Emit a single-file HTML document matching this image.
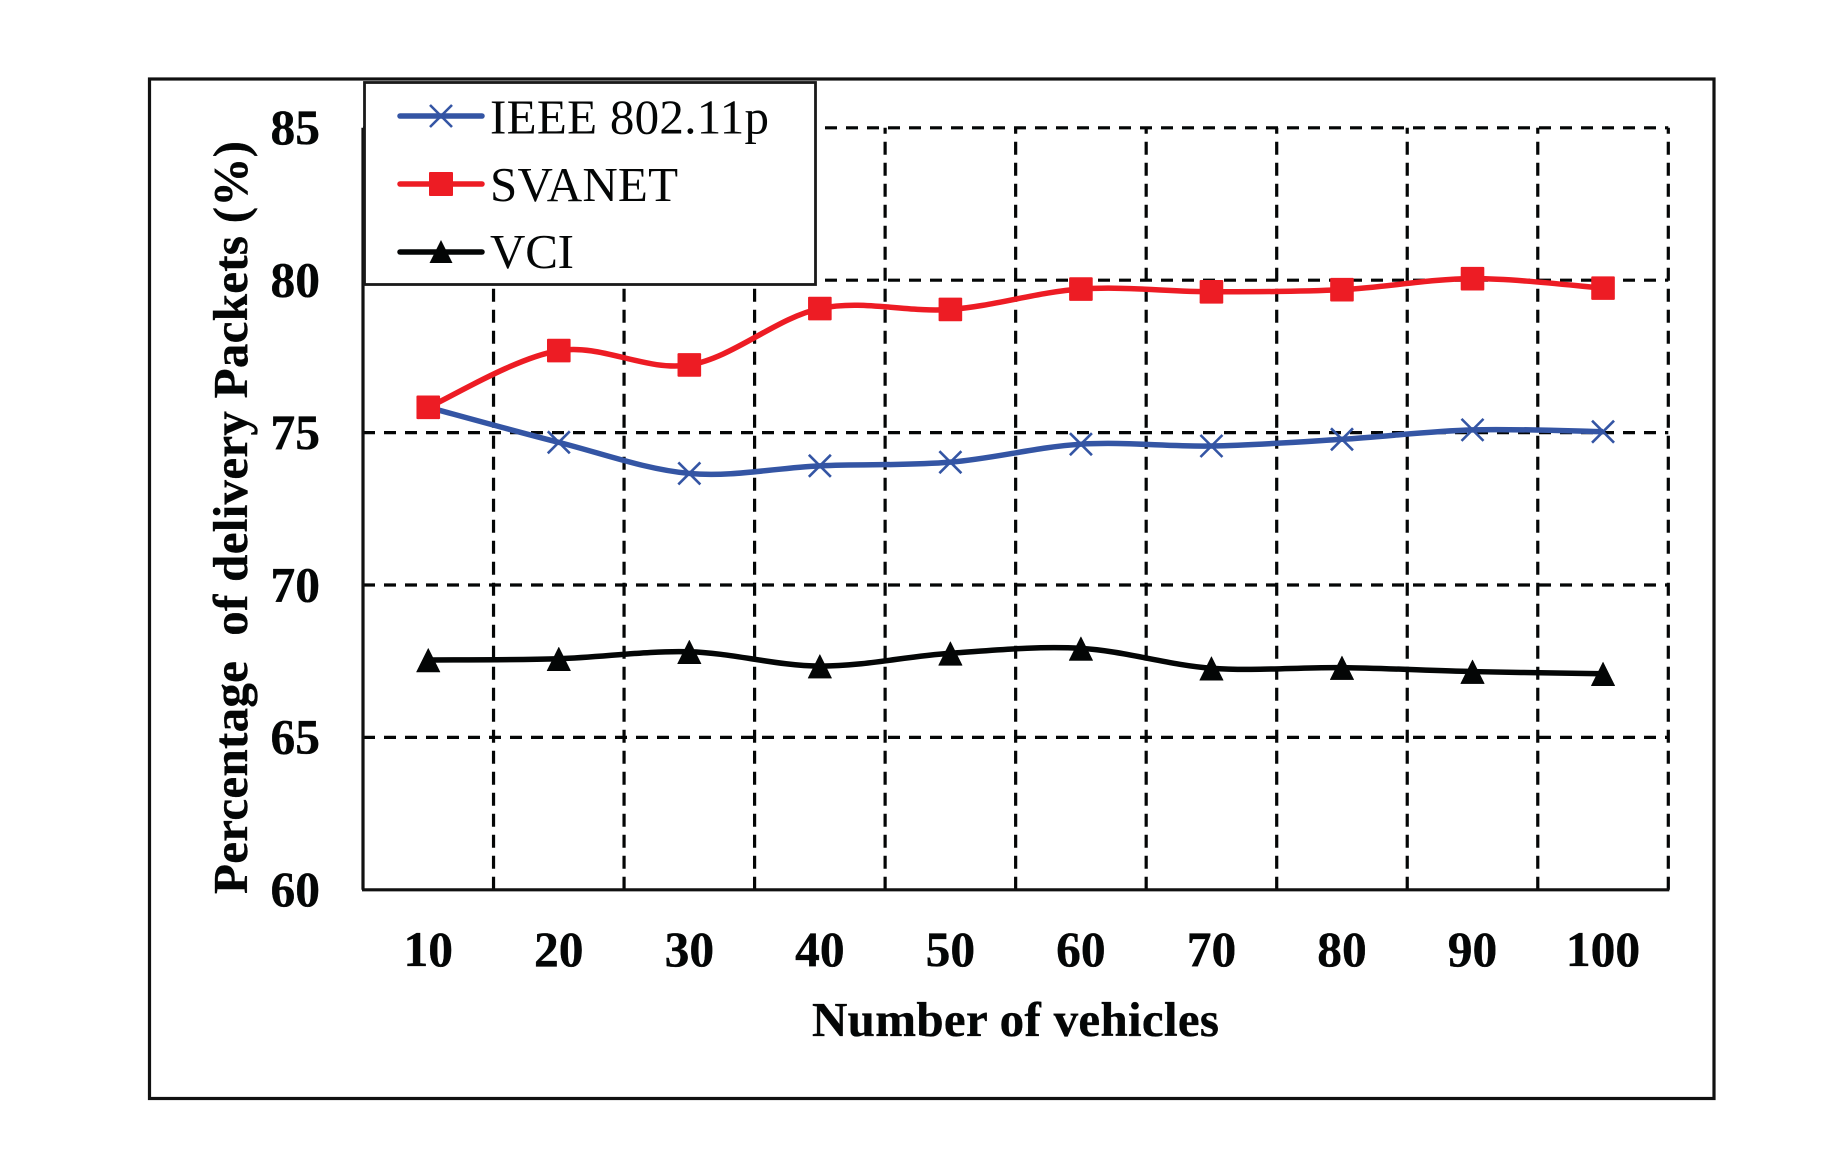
<!DOCTYPE html>
<html>
<head>
<meta charset="utf-8">
<title>Percentage of delivery packets vs number of vehicles</title>
<style>
html,body{margin:0;padding:0;background:#fff;width:1821px;height:1171px;overflow:hidden}
svg{display:block}
text{font-family:"Liberation Serif","DejaVu Serif",serif;fill:#040606}
.tick{font-weight:bold;font-size:49.5px;stroke:#040606;stroke-width:0.35px}
.title{font-weight:bold;font-size:49px;white-space:pre;stroke:#040606;stroke-width:0.35px}
.leg{font-size:49px}
</style>
</head>
<body>
<svg id="chart" xmlns="http://www.w3.org/2000/svg" width="1821" height="1171" viewBox="0 0 1821 1171">
  <rect x="0" y="0" width="1821" height="1171" fill="#fff"/>
  <rect x="149.5" y="79" width="1564.5" height="1019.5" fill="none" stroke="#111" stroke-width="3.2"/>
  <g id="grid"></g>
  <g id="axes"></g>
  <g id="yticks"></g>
  <g id="xticks"></g>
  <text class="title" x="812" y="1036" textLength="407" lengthAdjust="spacing">Number of vehicles</text>
  <text class="title" transform="translate(247,894) rotate(-90)" x="0" y="0" xml:space="preserve" textLength="753" lengthAdjust="spacing">Percentage  of delivery Packets (%)</text>
  <g id="series"></g>
  <g>
    <rect x="364.5" y="82.5" width="451" height="202" fill="#fff" stroke="#1a1a1a" stroke-width="2.8"/>
    <g>
      <line x1="400" y1="116" x2="482" y2="116" stroke="#3455a4" stroke-width="5.5" stroke-linecap="round"/>
      <path d="M430 105L452 127M452 105L430 127" stroke="#3455a4" stroke-width="2.6" fill="none"/>
      <text class="leg" x="490" y="133.5" textLength="279" lengthAdjust="spacing">IEEE 802.11p</text>
    </g>
    <g>
      <line x1="400" y1="184" x2="482" y2="184" stroke="#ed1c24" stroke-width="5.5" stroke-linecap="round"/>
      <rect x="429" y="172" width="24" height="24" rx="1" fill="#ed1c24"/>
      <text class="leg" x="490" y="201" textLength="188" lengthAdjust="spacing">SVANET</text>
    </g>
    <g>
      <line x1="400" y1="252" x2="482" y2="252" stroke="#040606" stroke-width="5.5" stroke-linecap="round"/>
      <path d="M441 240L452.5 263H429.5Z" fill="#040606"/>
      <text class="leg" x="490" y="268" textLength="84" lengthAdjust="spacing">VCI</text>
    </g>
  </g>
</svg>
<script>
var categories = ["10","20","30","40","50","60","70","80","90","100"];
var yTickValues = [60,65,70,75,80,85];
var ieeeValues = [75.83,74.68,73.66,73.91,74.03,74.62,74.56,74.78,75.09,75.03];
var svanetValues = [75.83,77.69,77.22,79.07,79.04,79.71,79.62,79.69,80.05,79.74];
var vciValues = [67.54,67.58,67.81,67.34,67.76,67.92,67.27,67.29,67.16,67.09];

var NS = 'http://www.w3.org/2000/svg';
var plotLeft = 363, plotRight = 1668.3, plotBottom = 889.8, pxPerUnit = 30.48, yMin = 60, yMax = 85;
var band = (plotRight - plotLeft) / categories.length;
function xScale(i){ return plotLeft + band * (i + 0.5); }
function yScale(v){ return plotBottom - (v - yMin) * pxPerUnit; }
function make(tag, parent){
  var el = document.createElementNS(NS, tag);
  parent.appendChild(el);
  return el;
}
function smoothPath(values){
  var pts = values.map(function(v, i){ return [xScale(i), yScale(v)]; });
  var d = 'M' + pts[0][0] + ' ' + pts[0][1];
  for (var i = 0; i < pts.length - 1; i++){
    var p0 = pts[Math.max(i - 1, 0)], p1 = pts[i], p2 = pts[i + 1], p3 = pts[Math.min(i + 2, pts.length - 1)];
    var c1x = p1[0] + (p2[0] - p0[0]) / 6, c1y = p1[1] + (p2[1] - p0[1]) / 6;
    var c2x = p2[0] - (p3[0] - p1[0]) / 6, c2y = p2[1] - (p3[1] - p1[1]) / 6;
    d += 'C' + c1x + ' ' + c1y + ' ' + c2x + ' ' + c2y + ' ' + p2[0] + ' ' + p2[1];
  }
  return d;
}

var grid = document.getElementById('grid');
yTickValues.forEach(function(v){
  if (v === yMin) return;
  var el = make('line', grid);
  
  
  el.setAttribute('x1', plotLeft);
  el.setAttribute('x2', plotRight);
  el.setAttribute('y1', yScale(v));
  el.setAttribute('y2', yScale(v));
  el.setAttribute('stroke', '#040606');
  el.setAttribute('stroke-width', '3.2');
  el.setAttribute('stroke-dasharray', '12 9');
});
categories.forEach(function(c, i){
  var gx = plotLeft + band * (i + 1);
  var el = make('line', grid);
  
  
  el.setAttribute('x1', gx);
  el.setAttribute('x2', gx);
  el.setAttribute('y1', plotBottom);
  el.setAttribute('y2', yScale(yMax));
  el.setAttribute('stroke', '#040606');
  el.setAttribute('stroke-width', '3.2');
  el.setAttribute('stroke-dasharray', '13 8');
});

var axes = document.getElementById('axes');
var xAxis = make('line', axes);


xAxis.setAttribute('x1', plotLeft - 1);
xAxis.setAttribute('x2', plotRight + 1);
xAxis.setAttribute('y1', plotBottom);
xAxis.setAttribute('y2', plotBottom);
xAxis.setAttribute('stroke', '#111');
xAxis.setAttribute('stroke-width', '3.2');
var yAxis = make('line', axes);


yAxis.setAttribute('x1', plotLeft);
yAxis.setAttribute('x2', plotLeft);
yAxis.setAttribute('y1', plotBottom);
yAxis.setAttribute('y2', yScale(yMax));
yAxis.setAttribute('stroke', '#111');
yAxis.setAttribute('stroke-width', '3.2');

var yticks = document.getElementById('yticks');
yTickValues.forEach(function(v){
  var el = make('text', yticks);
  
  
  el.setAttribute('class', 'tick');
  el.setAttribute('x', 320);
  el.setAttribute('y', yScale(v) + 16.3);
  el.setAttribute('text-anchor', 'end');
  el.textContent = String(v);
});
var xticks = document.getElementById('xticks');
categories.forEach(function(c, i){
  var el = make('text', xticks);
  
  
  el.setAttribute('class', 'tick');
  el.setAttribute('x', xScale(i));
  el.setAttribute('y', 966);
  el.setAttribute('text-anchor', 'middle');
  el.textContent = c;
});

var seriesGroup = document.getElementById('series');
function drawLine(name, values, color, width){
  var el = make('path', seriesGroup);
  
  
  el.setAttribute('d', smoothPath(values));
  el.setAttribute('fill', 'none');
  el.setAttribute('stroke', color);
  el.setAttribute('stroke-width', width);
  el.setAttribute('stroke-linejoin', 'round');
}
drawLine('ieee', ieeeValues, '#3455a4', 5.5);
ieeeValues.forEach(function(v, i){
  var x = xScale(i), y = yScale(v);
  var el = make('path', seriesGroup);
  
  
  el.setAttribute('d', 'M' + (x-11) + ' ' + (y-11) + 'L' + (x+11) + ' ' + (y+11) + 'M' + (x+11) + ' ' + (y-11) + 'L' + (x-11) + ' ' + (y+11));
  el.setAttribute('stroke', '#3455a4');
  el.setAttribute('stroke-width', '2.6');
  el.setAttribute('fill', 'none');
});
drawLine('svanet', svanetValues, '#ed1c24', 5.5);
svanetValues.forEach(function(v, i){
  var el = make('rect', seriesGroup);
  
  
  el.setAttribute('x', xScale(i) - 11.8);
  el.setAttribute('y', yScale(v) - 11.8);
  el.setAttribute('width', 23.6);
  el.setAttribute('height', 23.6);
  el.setAttribute('rx', 1);
  el.setAttribute('fill', '#ed1c24');
});
drawLine('vci', vciValues, '#040606', 5.5);
vciValues.forEach(function(v, i){
  var x = xScale(i), y = yScale(v);
  var el = make('path', seriesGroup);
  
  
  el.setAttribute('d', 'M' + x + ' ' + (y-11.5) + 'L' + (x+11.7) + ' ' + (y+12) + 'H' + (x-11.7) + 'Z');
  el.setAttribute('fill', '#040606');
  el.setAttribute('stroke', '#040606');
  el.setAttribute('stroke-width', '0.6');
  el.setAttribute('stroke-linejoin', 'round');
});
</script>
</body>
</html>
